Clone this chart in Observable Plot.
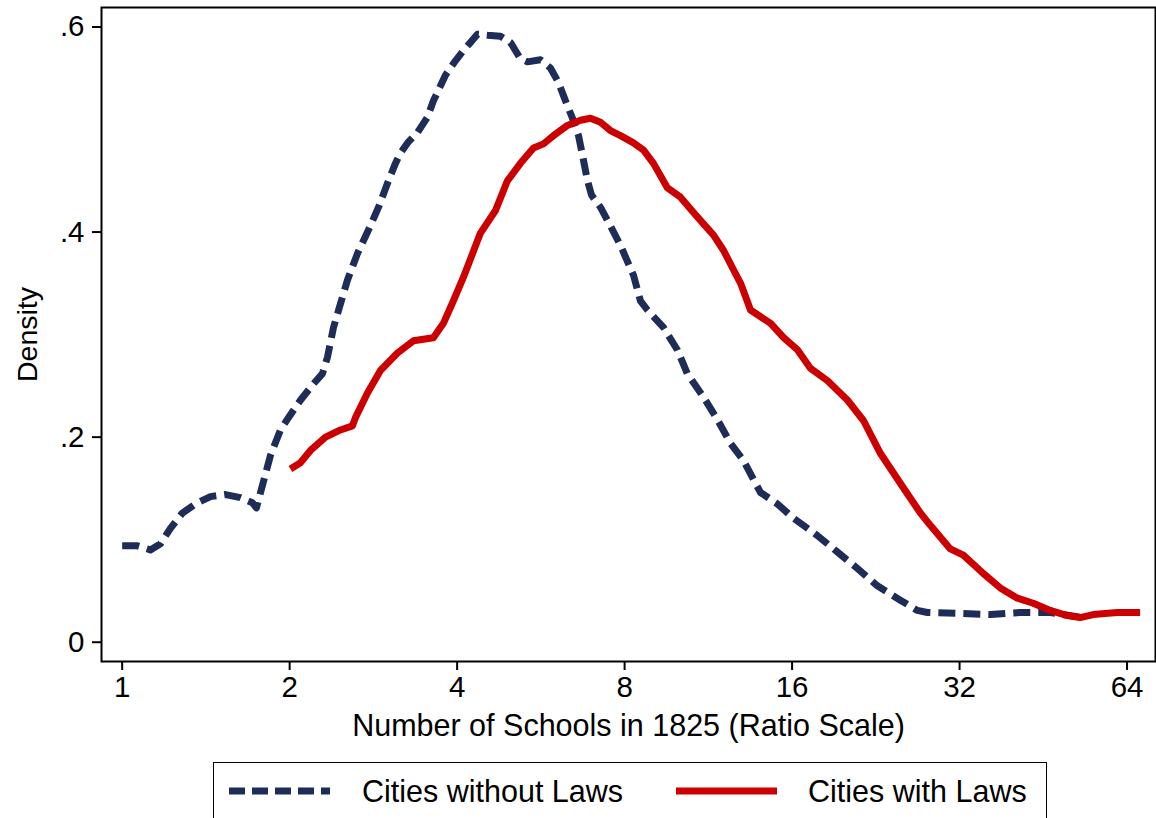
<!DOCTYPE html>
<html>
<head>
<meta charset="utf-8">
<script src="https://cdn.jsdelivr.net/npm/d3@7"></script>
<script src="https://cdn.jsdelivr.net/npm/@observablehq/plot@0.6"></script>
<style>
  html, body { margin: 0; padding: 0; background: #fff; }
  body { position: relative; width: 1156px; height: 818px; overflow: hidden; font-family: Arial, "Liberation Sans", sans-serif; }
  #chart { position: absolute; left: 0; top: 0; }
  #legend { position: absolute; left: 213px; top: 762px; width: 834px; height: 70px; border: 1.5px solid #000; box-sizing: border-box; }
  #legend .item { position: absolute; top: 0; height: 56px; display: flex; align-items: center; font-size: 30.5px; color: #000; white-space: nowrap; }
  #legend svg { display: block; }
</style>
</head>
<body>
<div id="chart"></div>
<div id="legend"></div>
<script>
// Cities without laws (dashed navy) — x: number of schools, y: density
const noLawX = [1.00, 1.065, 1.124, 1.172, 1.221, 1.283, 1.355, 1.441, 1.534, 1.631, 1.715, 1.743, 1.787, 1.847, 1.925, 1.990, 2.091, 2.207, 2.291, 2.339, 2.398, 2.468, 2.540, 2.648, 2.771, 2.888, 3.010, 3.099, 3.163, 3.270, 3.394, 3.537, 3.626, 3.811, 3.972, 4.106, 4.228, 4.351, 4.535, 4.785, 4.987, 5.198, 5.351, 5.646, 5.885, 6.084, 6.263, 6.448, 6.611, 6.748, 6.861, 6.977, 7.242, 7.545, 7.864, 8.299, 8.541, 8.792, 9.395, 9.955, 10.37, 11.09, 11.75, 12.40, 13.09, 13.75, 14.04, 15.05, 16.09, 17.77, 19.30, 20.96, 22.77, 25.04, 26.87, 28.01, 32.09, 36.33, 41.14, 46.57, 53.37];
const noLawY = [0.094, 0.094, 0.090, 0.096, 0.111, 0.126, 0.135, 0.142, 0.144, 0.141, 0.136, 0.131, 0.153, 0.182, 0.207, 0.219, 0.236, 0.252, 0.262, 0.278, 0.307, 0.330, 0.353, 0.379, 0.402, 0.424, 0.450, 0.467, 0.477, 0.488, 0.497, 0.512, 0.528, 0.553, 0.567, 0.577, 0.585, 0.593, 0.592, 0.591, 0.585, 0.569, 0.566, 0.568, 0.560, 0.546, 0.528, 0.511, 0.494, 0.470, 0.450, 0.436, 0.424, 0.406, 0.387, 0.358, 0.333, 0.324, 0.307, 0.285, 0.262, 0.239, 0.217, 0.194, 0.177, 0.155, 0.146, 0.135, 0.121, 0.104, 0.088, 0.072, 0.055, 0.041, 0.031, 0.029, 0.028, 0.027, 0.029, 0.029, 0.024];

// Cities with laws (solid red)
const lawX = [2.007, 2.091, 2.180, 2.320, 2.468, 2.594, 2.626, 2.760, 2.912, 3.125, 3.339, 3.626, 3.779, 3.939, 4.106, 4.405, 4.688, 4.925, 5.198, 5.486, 5.718, 5.959, 6.314, 6.664, 6.946, 7.242, 7.545, 7.864, 8.299, 8.651, 9.015, 9.552, 10.08, 10.64, 11.09, 11.56, 12.05, 12.56, 12.93, 13.47, 14.64, 15.45, 16.37, 17.27, 18.53, 20.13, 21.51, 23.07, 25.04, 27.21, 28.35, 30.80, 32.50, 35.31, 37.87, 40.64, 43.41, 46.57, 49.97, 52.71, 55.64, 61.45, 67.56];
const lawY = [0.169, 0.175, 0.187, 0.200, 0.207, 0.211, 0.219, 0.243, 0.265, 0.282, 0.294, 0.297, 0.311, 0.333, 0.356, 0.399, 0.421, 0.450, 0.467, 0.482, 0.486, 0.494, 0.504, 0.509, 0.511, 0.507, 0.499, 0.494, 0.487, 0.480, 0.467, 0.443, 0.434, 0.419, 0.408, 0.397, 0.382, 0.363, 0.350, 0.324, 0.311, 0.297, 0.285, 0.267, 0.255, 0.236, 0.216, 0.184, 0.155, 0.126, 0.114, 0.091, 0.085, 0.067, 0.053, 0.043, 0.038, 0.031, 0.026, 0.024, 0.027, 0.029, 0.029];

const xTicks = [1, 2, 4, 8, 16, 32, 64];
const yTicks = [0, 0.2, 0.4, 0.6];
const yTickLabels = ["0", ".2", ".4", ".6"];
const xTitle = "Number of Schools in 1825 (Ratio Scale)";
const yTitle = "Density";
const seriesNames = ["Cities without Laws", "Cities with Laws"];
const seriesColors = ["#1e2d57", "#cc0000"];

const noLaw = noLawX.map((x, i) => ({x, y: noLawY[i]}));
const law = lawX.map((x, i) => ({x, y: lawY[i]}));

const font = "Arial, 'Liberation Sans', sans-serif";

const chart = Plot.plot({
  width: 1156,
  height: 750,
  marginLeft: 101,
  marginRight: 1,
  marginTop: 7,
  marginBottom: 89,
  style: {fontFamily: font, background: "#fff", color: "#000", overflow: "visible"},
  x: {type: "log", base: 2, domain: [0.918, 72]},
  y: {domain: [-0.0188, 0.619]},
  marks: [
    Plot.line(noLaw, {x: "x", y: "y", stroke: seriesColors[0], strokeWidth: 7, strokeDasharray: "17,8", strokeLinecap: "butt", strokeLinejoin: "round"}),
    Plot.line(law, {x: "x", y: "y", stroke: seriesColors[1], strokeWidth: 7, strokeLinecap: "butt", strokeLinejoin: "round"}),
    Plot.frame({stroke: "#000", strokeWidth: 2}),
    Plot.axisX(xTicks, {tickSize: 9, tickPadding: 6, strokeWidth: 2, fontSize: 29.5, tickFormat: d => String(d), label: null}),
    Plot.axisY(yTicks, {tickSize: 9, tickPadding: 8, strokeWidth: 2, fontSize: 29.5, tickFormat: d => yTickLabels[yTicks.indexOf(d)], label: null}),
    Plot.text([xTitle], {frameAnchor: "bottom", dy: 65, lineAnchor: "middle", textAnchor: "middle", fontSize: 30.5, fill: "#000"}),
    Plot.text([yTitle], {frameAnchor: "left", dx: -74, rotate: -90, textAnchor: "middle", lineAnchor: "middle", fontSize: 28.5, fill: "#000"})
  ]
});
document.getElementById("chart").appendChild(chart);

// Legend
const legend = document.getElementById("legend");
function addItem(left, sampleWidth, color, dash, label, gap) {
  const item = document.createElement("div");
  item.className = "item";
  item.style.left = left + "px";
  const svg = d3.create("svg").attr("width", sampleWidth).attr("height", 12);
  svg.append("line").attr("x1", 0).attr("x2", sampleWidth).attr("y1", 6).attr("y2", 6)
    .attr("stroke", color).attr("stroke-width", 7).attr("stroke-dasharray", dash);
  item.appendChild(svg.node());
  const span = document.createElement("span");
  span.textContent = label;
  span.style.marginLeft = gap + "px";
  item.appendChild(span);
  legend.appendChild(item);
}
addItem(15, 101, seriesColors[0], "16,7", seriesNames[0], 32);
addItem(462, 101, seriesColors[1], null, seriesNames[1], 31);
</script>
</body>
</html>
